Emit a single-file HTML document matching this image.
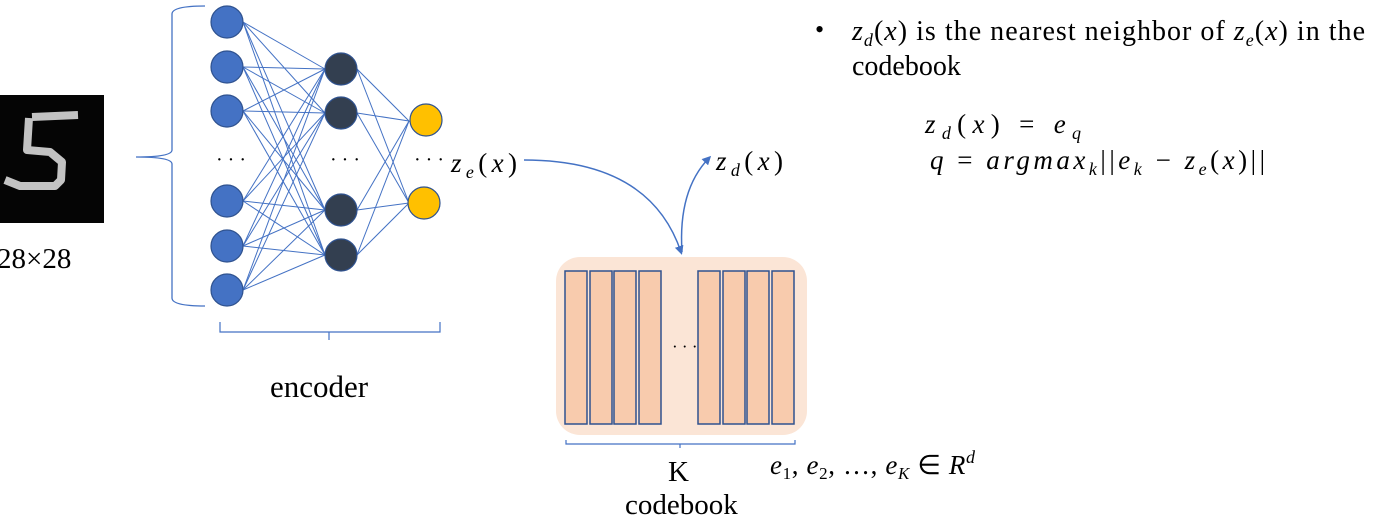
<!DOCTYPE html>
<html><head><meta charset="utf-8"><style>
body{margin:0;background:#fff;}
svg{display:block;}
text{font-family:"Liberation Serif",serif;fill:#000;}
.m{font-style:italic;}
</style></head><body>
<svg width="1383" height="525" viewBox="0 0 1383 525" xmlns="http://www.w3.org/2000/svg">
<!-- MNIST image -->
<rect x="0" y="95" width="104" height="128" fill="#050505"/>
<path d="M32 117 L78 115 M29 118 L27 150 L50 152 L62 162 L61 180 L55 186 L20 186 L5 180" stroke="#d8d8d8" stroke-width="8" fill="none" stroke-linejoin="round" opacity="0.9"/>
<text x="-3" y="268" font-size="29">28×28</text>
<!-- big brace -->
<path d="M205 6 Q172 6 172 14 L172 150 Q172 157 136 157 Q172 157 172 164 L172 298 Q172 306 205 306" stroke="#4472c4" stroke-width="1.3" fill="none"/>
<!-- connections -->
<g stroke="#4472c4" stroke-width="1">
<line x1="243" y1="22" x2="325" y2="69"/><line x1="243" y1="22" x2="325" y2="113"/><line x1="243" y1="22" x2="325" y2="210"/><line x1="243" y1="22" x2="325" y2="255"/>
<line x1="243" y1="67" x2="325" y2="69"/><line x1="243" y1="67" x2="325" y2="113"/><line x1="243" y1="67" x2="325" y2="210"/><line x1="243" y1="67" x2="325" y2="255"/>
<line x1="243" y1="111" x2="325" y2="69"/><line x1="243" y1="111" x2="325" y2="113"/><line x1="243" y1="111" x2="325" y2="210"/><line x1="243" y1="111" x2="325" y2="255"/>
<line x1="243" y1="201" x2="325" y2="69"/><line x1="243" y1="201" x2="325" y2="113"/><line x1="243" y1="201" x2="325" y2="210"/><line x1="243" y1="201" x2="325" y2="255"/>
<line x1="243" y1="246" x2="325" y2="69"/><line x1="243" y1="246" x2="325" y2="113"/><line x1="243" y1="246" x2="325" y2="210"/><line x1="243" y1="246" x2="325" y2="255"/>
<line x1="243" y1="290" x2="325" y2="69"/><line x1="243" y1="290" x2="325" y2="113"/><line x1="243" y1="290" x2="325" y2="210"/><line x1="243" y1="290" x2="325" y2="255"/>
<line x1="357" y1="69" x2="409" y2="121"/><line x1="357" y1="69" x2="409" y2="203"/>
<line x1="357" y1="113" x2="409" y2="121"/><line x1="357" y1="113" x2="409" y2="203"/>
<line x1="357" y1="210" x2="409" y2="121"/><line x1="357" y1="210" x2="409" y2="203"/>
<line x1="357" y1="255" x2="409" y2="121"/><line x1="357" y1="255" x2="409" y2="203"/>
</g>
<!-- nodes -->
<g fill="#4472c4" stroke="#2f528f" stroke-width="1.2">
<circle cx="227" cy="22" r="16"/><circle cx="227" cy="67" r="16"/><circle cx="227" cy="111" r="16"/>
<circle cx="227" cy="201" r="16"/><circle cx="227" cy="246" r="16"/><circle cx="227" cy="290" r="16"/>
</g>
<g fill="#333f50" stroke="#2f528f" stroke-width="1.2">
<circle cx="341" cy="69" r="16"/><circle cx="341" cy="113" r="16"/><circle cx="341" cy="210" r="16"/><circle cx="341" cy="255" r="16"/>
</g>
<g fill="#ffc000" stroke="#2f528f" stroke-width="1.2">
<circle cx="426" cy="120" r="16"/><circle cx="424" cy="203" r="16"/>
</g>
<text x="216" y="166" font-size="20">· · ·</text>
<text x="330" y="166" font-size="20">· · ·</text>
<text x="414" y="166" font-size="20">· · ·</text>
<!-- encoder brace -->
<path d="M220 322 L220 332 L329 332 L329 340 M329 332 L440 332 L440 322" stroke="#4472c4" stroke-width="1.2" fill="none"/>
<text x="270" y="397" font-size="31">encoder</text>
<!-- z_e(x) -->
<text x="451" y="172" font-size="27" class="m" textLength="66" lengthAdjust="spacing">z<tspan font-size="18" dy="6">e</tspan><tspan dy="-6" font-style="normal">(</tspan>x<tspan font-style="normal">)</tspan></text>
<!-- codebook -->
<rect x="556" y="257" width="251" height="178" rx="24" fill="#fbe5d6"/>
<g fill="#f8cbad" stroke="#2f528f" stroke-width="1.5">
<rect x="565" y="271" width="22" height="153"/><rect x="590" y="271" width="22" height="153"/><rect x="614" y="271" width="22" height="153"/><rect x="639" y="271" width="22" height="153"/>
<rect x="698" y="271" width="22" height="153"/><rect x="723" y="271" width="22" height="153"/><rect x="747" y="271" width="22" height="153"/><rect x="772" y="271" width="22" height="153"/>
</g>
<text x="672" y="352" font-size="17">· · ·</text>
<!-- arrows -->
<defs><marker id="ah" markerWidth="9" markerHeight="9" refX="6" refY="4.5" orient="auto" markerUnits="userSpaceOnUse"><path d="M0 0 L9 4.5 L0 9 Z" fill="#4472c4"/></marker></defs>
<path d="M524 160 Q650 160 681 252" stroke="#4472c4" stroke-width="1.5" fill="none" marker-end="url(#ah)"/>
<path d="M682 252 Q678 190 709 158" stroke="#4472c4" stroke-width="1.5" fill="none" marker-end="url(#ah)"/>
<text x="716" y="170" font-size="27" class="m" textLength="67" lengthAdjust="spacing">z<tspan font-size="18" dy="6">d</tspan><tspan dy="-6" font-style="normal">(</tspan>x<tspan font-style="normal">)</tspan></text>
<!-- codebook brace -->
<path d="M566 440 L566 444 L795 444 L795 440 M680 444 L680 448" stroke="#4472c4" stroke-width="1.2" fill="none"/>
<text x="668" y="481" font-size="29">K</text>
<text x="625" y="514" font-size="29">codebook</text>
<text x="770" y="474" font-size="27" class="m" textLength="205" lengthAdjust="spacing">e<tspan font-size="17" dy="5" font-style="normal">1</tspan><tspan dy="-5" font-style="normal">, </tspan>e<tspan font-size="17" dy="5" font-style="normal">2</tspan><tspan dy="-5" font-style="normal">, …, </tspan>e<tspan font-size="17" dy="5">K</tspan><tspan dy="-5" font-style="normal"> ∈ </tspan>R<tspan font-size="18" dy="-11">d</tspan></text>
<!-- right text -->
<text x="815" y="38" font-size="26">•</text>
<text x="852" y="40" font-size="28" textLength="513" lengthAdjust="spacing"><tspan class="m">z</tspan><tspan class="m" font-size="18" dy="6">d</tspan><tspan dy="-6">(</tspan><tspan class="m">x</tspan>) is the nearest neighbor of <tspan class="m">z</tspan><tspan class="m" font-size="18" dy="6">e</tspan><tspan dy="-6">(</tspan><tspan class="m">x</tspan>) in the</text>
<text x="852" y="75" font-size="28">codebook</text>
<text x="925" y="133" font-size="27" textLength="156" lengthAdjust="spacing"><tspan class="m">z</tspan><tspan class="m" font-size="18" dy="6">d</tspan><tspan dy="-6">(</tspan><tspan class="m">x</tspan>)  = <tspan class="m">e</tspan><tspan class="m" font-size="18" dy="6">q</tspan></text>
<text x="930" y="169" font-size="27" textLength="335" lengthAdjust="spacing"><tspan class="m">q</tspan> = <tspan class="m">argmax</tspan><tspan class="m" font-size="18" dy="6">k</tspan><tspan dy="-6">||</tspan><tspan class="m">e</tspan><tspan class="m" font-size="18" dy="6">k</tspan><tspan dy="-6"> − </tspan><tspan class="m">z</tspan><tspan class="m" font-size="18" dy="6">e</tspan><tspan dy="-6">(</tspan><tspan class="m">x</tspan>)||</text>
</svg>
</body></html>
